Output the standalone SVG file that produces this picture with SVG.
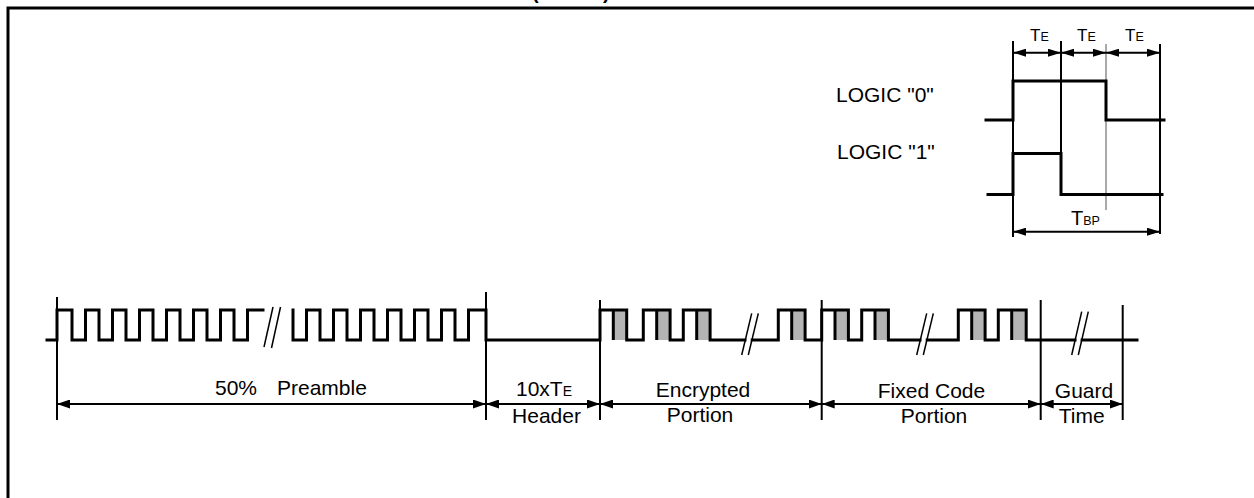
<svg xmlns="http://www.w3.org/2000/svg" width="1254" height="498" viewBox="0 0 1254 498">
<defs>
<marker id="ah" markerUnits="userSpaceOnUse" markerWidth="13" markerHeight="9" refX="13" refY="4.5" orient="auto-start-reverse">
<path d="M0,0 L13,4.5 L0,9 z" fill="#000"/>
</marker>
<marker id="ahs" markerUnits="userSpaceOnUse" markerWidth="13" markerHeight="8" refX="13" refY="4" orient="auto-start-reverse">
<path d="M0,0 L13,4 L0,8 z" fill="#000"/>
</marker>
</defs>
<style>
text{font-family:"Liberation Sans",Arial,sans-serif;fill:#000}
.lbl{font-size:21px}
.mid{text-anchor:middle}
.wave{fill:none;stroke:#000;stroke-width:3;stroke-linejoin:miter;stroke-linecap:square}
.bnd{stroke:#000;stroke-width:2}
.dim{stroke:#000;stroke-width:2;marker-start:url(#ah);marker-end:url(#ah)}
.dims{stroke:#000;stroke-width:2;marker-start:url(#ahs);marker-end:url(#ahs)}
.slash{stroke:#000;stroke-width:1.5}
.gray{fill:#b4b4b4;stroke:none}
.bit{stroke:#000;stroke-width:3}
</style>
<rect width="1254" height="498" fill="#fff"/>
<g id="frame">
<path d="M8,500 V8 H1256" fill="none" stroke="#000" stroke-width="3"/>
<text x="532" y="-1" style="font-size:20px;font-weight:bold">(</text>
<text x="603" y="-1" style="font-size:20px;font-weight:bold">)</text>
</g>
<g id="legend">
<line class="bnd" x1="1013" y1="41" x2="1013" y2="237"/>
<line class="bnd" x1="1061" y1="41" x2="1061" y2="194"/>
<line x1="1106" y1="44" x2="1106" y2="210" stroke="#555" stroke-width="1"/>
<line class="bnd" x1="1160" y1="44" x2="1160" y2="234"/>
<path class="wave" d="M986,120 H1013 V81 H1106 V120 H1164"/>
<path class="wave" d="M988,194.5 H1013 V153.5 H1061 V194.5 H1162"/>
<text class="lbl" x="836" y="101.5">LOGIC "0"</text>
<text class="lbl" x="837" y="159">LOGIC "1"</text>
<text x="1030" y="40.5" style="font-size:17px">T<tspan style="font-size:12.5px">E</tspan></text>
<text x="1077" y="40.5" style="font-size:17px">T<tspan style="font-size:12.5px">E</tspan></text>
<text x="1125" y="40.5" style="font-size:17px">T<tspan style="font-size:12.5px">E</tspan></text>
<text x="1071" y="225" style="font-size:20px">T<tspan style="font-size:12.5px">BP</tspan></text>
</g>
<g id="waveform">
<rect class="gray" x="613.3" y="310" width="13.4" height="30"/>
<rect class="gray" x="656.7" y="310" width="13.4" height="30"/>
<rect class="gray" x="696.7" y="310" width="13.4" height="30"/>
<rect class="gray" x="791.7" y="310" width="13.4" height="30"/>
<rect class="gray" x="835" y="310" width="13.4" height="30"/>
<rect class="gray" x="875" y="310" width="13.4" height="30"/>
<rect class="gray" x="971.7" y="310" width="13.4" height="30"/>
<rect class="gray" x="1011.7" y="310" width="14.5" height="30"/>
<g class="bit">
<line x1="613.3" y1="310" x2="613.3" y2="340"/>
<line x1="656.7" y1="310" x2="656.7" y2="340"/>
<line x1="696.7" y1="310" x2="696.7" y2="340"/>
<line x1="791.7" y1="310" x2="791.7" y2="340"/>
<line x1="835" y1="310" x2="835" y2="340"/>
<line x1="875" y1="310" x2="875" y2="340"/>
<line x1="971.7" y1="310" x2="971.7" y2="340"/>
<line x1="1011.7" y1="310" x2="1011.7" y2="340"/>
</g>
<path class="wave" d="M47,340 H57 V310 H72 V340 H85.5 V310 H99 V340 H112.5 V310 H126 V340 H139.5 V310 H153 V340 H166.5 V310 H180 V340 H193.5 V310 H207 V340 H220.5 V310 H234 V340 H247.5 V310 H263"/>
<path class="wave" d="M293,310 V340 H306.5 V310 H320 V340 H333.5 V310 H347 V340 H360.5 V310 H374 V340 H387.5 V310 H401 V340 H414.5 V310 H428 V340 H441.5 V310 H455 V340 H468.5 V310 H486 V340 H600 V310 H626.7 V340 H643.3 V310 H670.1 V340 H683.3 V310 H710.1 V340 H745"/>
<path class="wave" d="M752.2,340 H778.3 V310 H805.1 V340 H821.7 V310 H848.4 V340 H861.7 V310 H888.4 V340 H920"/>
<path class="wave" d="M927.2,340 H958.3 V310 H985.1 V340 H998.3 V310 H1026.2 V340 H1075"/>
<path class="wave" d="M1082.1,340 H1137"/>
<g class="slash">
<line x1="264" y1="347" x2="273" y2="307"/>
<line x1="271.5" y1="348" x2="280.5" y2="307"/>
<line x1="741.7" y1="355" x2="751.7" y2="313.3"/>
<line x1="748.3" y1="355" x2="758.3" y2="313.3"/>
<line x1="916.7" y1="355" x2="926.7" y2="313.3"/>
<line x1="923.3" y1="355" x2="933.3" y2="313.3"/>
<line x1="1071.7" y1="355" x2="1081.7" y2="311.7"/>
<line x1="1078.3" y1="355" x2="1088.3" y2="311.7"/>
</g>
</g>
<g id="connectors">
<line class="bnd" x1="57" y1="297" x2="57" y2="420"/>
<line class="bnd" x1="486" y1="292" x2="486" y2="420"/>
<line class="bnd" x1="600" y1="300" x2="600" y2="420"/>
<line class="bnd" x1="821.7" y1="300" x2="821.7" y2="420"/>
<line class="bnd" x1="1040.7" y1="300" x2="1040.7" y2="420"/>
<line class="bnd" x1="1122.7" y1="305" x2="1122.7" y2="420"/>
<line class="dim" x1="57" y1="404" x2="486" y2="404"/>
<line class="dim" x1="486" y1="404" x2="600" y2="404"/>
<line class="dim" x1="600" y1="404" x2="821.7" y2="404"/>
<line class="dim" x1="821.7" y1="404" x2="1040.7" y2="404"/>
<line class="dim" x1="1040.7" y1="404" x2="1122.7" y2="404"/>
<line class="dims" x1="1013" y1="52.7" x2="1061" y2="52.7"/>
<line class="dims" x1="1061" y1="52.7" x2="1106" y2="52.7"/>
<line class="dims" x1="1106" y1="52.7" x2="1160" y2="52.7"/>
<line class="dims" x1="1013" y1="231.7" x2="1160" y2="231.7"/>
</g>
<g id="labels">
<text class="lbl" x="215" y="395">50%</text>
<text class="lbl" x="277" y="395">Preamble</text>
<text x="516" y="396" style="font-size:21px">10xT<tspan style="font-size:14px">E</tspan></text>
<text class="lbl mid" x="546.5" y="423">Header</text>
<text class="lbl mid" x="703" y="397">Encrypted</text>
<text class="lbl mid" x="700" y="422">Portion</text>
<text class="lbl mid" x="931.5" y="398">Fixed Code</text>
<text class="lbl mid" x="934" y="423">Portion</text>
<text class="lbl mid" x="1084" y="398">Guard</text>
<text class="lbl mid" x="1081.7" y="423">Time</text>
</g>
</svg>
